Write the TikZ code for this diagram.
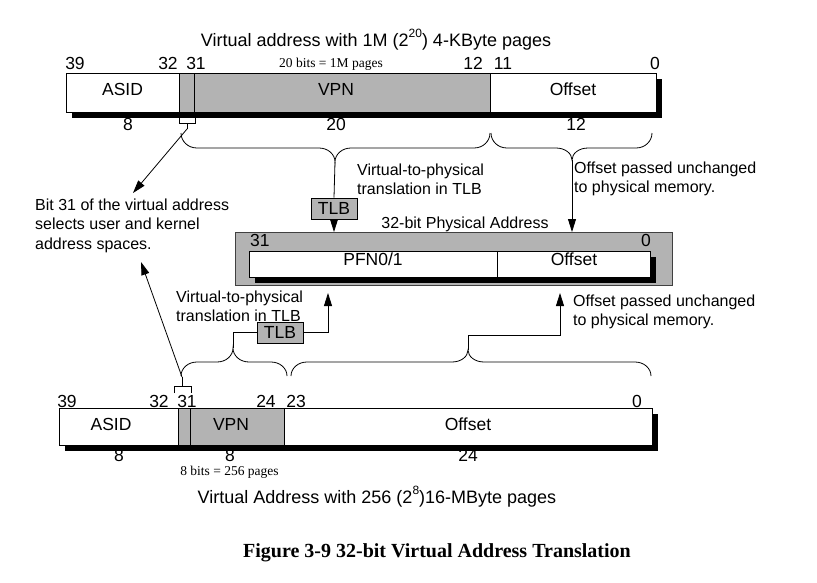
\documentclass[tikz,border=0pt]{standalone}
\usepackage{fontspec}
\setmainfont{Liberation Sans}
\newfontfamily\serifface{Liberation Serif}
\usetikzlibrary{arrows.meta,calc}
\definecolor{regGray}{RGB}{179,179,179}
\newcommand\szLab{\fontsize{17.5}{20}\selectfont}
\newcommand\szNum{\fontsize{17.5}{20}\selectfont}
\newcommand\szAnn{\fontsize{16}{19.5}\selectfont}
\newcommand\szTit{\fontsize{18}{21}\selectfont}
\newcommand\szSer{\serifface\fontsize{13.5}{15}\selectfont}
\newcommand\szCap{\serifface\bfseries\fontsize{20}{23}\selectfont}
\newcommand\supx[1]{\raisebox{0.5em}{\fontsize{12}{12}\selectfont #1}}
% #1 left x, #2 tip x, #3 right x, #4 end y, #5 middle y, #6 tip y
\newcommand\bracepath[6]{%
  \draw[conn] (#1,#4) .. controls (#1,{#5-0.45*(#5-#4)}) and ({#1+7},#5) .. ({#1+16},#5) -- ({#2-16},#5)
    .. controls ({#2-7},#5) and (#2,{#5+0.45*(#6-#5)}) .. (#2,#6)
    .. controls (#2,{#5+0.45*(#6-#5)}) and ({#2+7},#5) .. ({#2+16},#5) -- ({#3-16},#5)
    .. controls ({#3-7},#5) and (#3,{#5-0.45*(#5-#4)}) .. (#3,#4);}
\begin{document}
\begin{tikzpicture}[x=1pt,y=-1pt,
  fld/.style={draw=black,line width=0.9pt,fill=white,inner sep=0pt,outer sep=0pt,anchor=north west},
  gfld/.style={fld,fill=regGray},
  conn/.style={draw=black,line width=0.8pt},
  arr/.style={conn,-{Triangle[length=13pt,width=8pt]}},
  txt/.style={inner sep=0pt,anchor=base},
  lab/.style={txt,font=\szLab},
  num/.style={txt,font=\szNum},
  ann/.style={inner sep=0pt,font=\szAnn,align=left,anchor=north west},
  tlbbox/.style={draw=black,line width=0.9pt,fill=regGray,inner sep=0pt,minimum width=46pt,minimum height=21pt,font=\szLab}
]
\useasboundingbox (0,0) rectangle (817,582);

% ---------- top register: virtual address, 4-KByte pages ----------
\node[txt,font=\szTit] (title1) at (376,46) {Virtual address with 1M (2\supx{20}) 4-KByte pages};
\node[num] (t39) at (75,69) {39};
\node[num] (t32) at (168,69) {32};
\node[num] (t31) at (196,69) {31};
\node[txt,font=\szSer] (t20bits) at (331,67) {20 bits = 1M pages};
\node[num] (t12) at (473,69) {12};
\node[num] (t11) at (503,69) {11};
\node[num] (t0) at (655,69) {0};
\node[num] (tw8) at (128,130) {8};
\node[num] (tw20) at (336,130) {20};
\node[num] (tw12) at (576,130) {12};
\fill[black] (72,79) rectangle (662,118);
\node[fld,minimum width=113pt,minimum height=39pt] (asidT) at (66,73) {};
\node[gfld,minimum width=311pt,minimum height=39pt] (vpnT) at (179,73) {};
\node[fld,minimum width=166pt,minimum height=39pt] (offT) at (490,73) {};
\draw[conn] ([xshift=15pt]vpnT.north west) -- ([xshift=15pt]vpnT.south west);
\node[lab] (tASID) at (122.5,95) {ASID};
\node[lab] (tVPN) at (336,95) {VPN};
\node[lab] (tOff) at (573,95) {Offset};

% bit-31 bracket (top)
\draw[conn] (179,118) -- (179,123) -- (195,123) -- (195,118);
\coordinate (j1) at (187,129);
\draw[conn] (187,123) -- (j1);

% braces (top)
\bracepath{181}{335}{490}{133}{148}{162}
\bracepath{491}{572}{652}{133}{148}{160}
\coordinate (tipA) at (335,162);
\coordinate (tipB) at (572,160);

% annotations (top)
\node[ann] (annTLB1) at (357,163.5) {Virtual-to-physical\\translation in TLB};
\node[ann] (annOff1) at (574,161.5) {Offset passed unchanged\\to physical memory.};
\node[ann] (annBit) at (35,198.5) {Bit 31 of the virtual address\\selects user and kernel\\address spaces.};
\node[txt,font=\szAnn] (physTitle) at (465,228) {32-bit Physical Address};

% TLB (top)
\node[tlbbox] (tlbT) at (334,208.5) {TLB};

% ---------- physical address ----------
\node[gfld,minimum width=437pt,minimum height=53pt,draw=black!75] (phys) at (235,232) {};
\fill[black] (255,257) rectangle (656,283);
\node[fld,minimum width=248pt,minimum height=26pt] (pfn) at (249,251) {};
\node[fld,minimum width=153pt,minimum height=26pt] (offP) at (497,251) {};
\node[num,anchor=base west] (p31) at (250,246) {31};
\node[num,anchor=base east] (p0) at (651,246) {0};
\node[lab] (tPFN) at (373,265) {PFN0/1};
\node[lab] (tOffP) at (574,265) {Offset};

% connectors top -> physical
\draw[conn] (tipA) -- (tlbT.north);
\draw[arr] (tlbT.south) -- (tlbT.south |- phys.north);
\draw[arr] (tipB) -- (tipB |- phys.north);
\coordinate (bitEnd1) at (133,193);
\draw[arr] (j1) -- (bitEnd1);

% ---------- lower annotations ----------
\node[ann] (annTLB2) at (176,290.5) {Virtual-to-physical\\translation in TLB};
\node[ann] (annOff2) at (573,294.5) {Offset passed unchanged\\to physical memory.};
\node[tlbbox] (tlbB) at (280,332.5) {TLB};

% ---------- lower register: virtual address, 16-MByte pages ----------
\node[num] (b8a) at (119,461) {8};
\node[num] (b8b) at (230,461) {8};
\node[num] (b24w) at (468,461) {24};
\fill[black] (65,414) rectangle (658,451);
\node[fld,minimum width=119pt,minimum height=37pt] (asidB) at (59,408) {};
\node[gfld,minimum width=106pt,minimum height=37pt] (vpnB) at (178,408) {};
\node[fld,minimum width=368pt,minimum height=37pt] (offB) at (284,408) {};
\draw[conn] ([xshift=12pt]vpnB.north west) -- ([xshift=12pt]vpnB.south west);
\node[lab] (bASID) at (111,430) {ASID};
\node[lab] (bVPN) at (231,430) {VPN};
\node[lab] (bOff) at (468,430) {Offset};
\node[num] (b39) at (67,407) {39};
\node[num] (b32) at (159,407) {32};
\node[num] (b31) at (187,407) {31};
\node[num] (b24) at (266,407) {24};
\node[num] (b23) at (296,407) {23};
\node[num] (b0) at (637,407) {0};
\node[txt,font=\szSer] (b8bits) at (229.5,475) {8 bits = 256 pages};
\node[txt,font=\szTit] (title2) at (377,503) {Virtual Address with 256 (2\supx{8})16-MByte pages};
\node[txt,font=\szCap] (caption) at (437,557) {Figure 3-9 32-bit Virtual Address Translation};

% bit-31 bracket (lower)
\draw[conn] (174,393) -- (174,386) -- (191,386) -- (191,393);
\coordinate (j2) at (182,377);
\draw[conn] (182,386) -- (j2);

% braces (lower)
\bracepath{181}{233}{287}{376}{362}{348}
\bracepath{291}{468}{651}{376}{362}{350}
\coordinate (tipC) at (233,348);
\coordinate (tipD) at (468,350);
\coordinate (bendD) at (468,335);
\coordinate (pfnIn) at (328,293);
\coordinate (offIn) at (560,293);
\coordinate (bitEnd2) at (141,262);

% connectors lower -> physical
\draw[conn] (tipC) |- (tlbB.west);
\draw[arr] (tlbB.east) -| (pfnIn);
\draw[arr] (tipD) -- (bendD) -| (offIn);
\draw[arr] (j2) -- (bitEnd2);
\end{tikzpicture}
\end{document}
